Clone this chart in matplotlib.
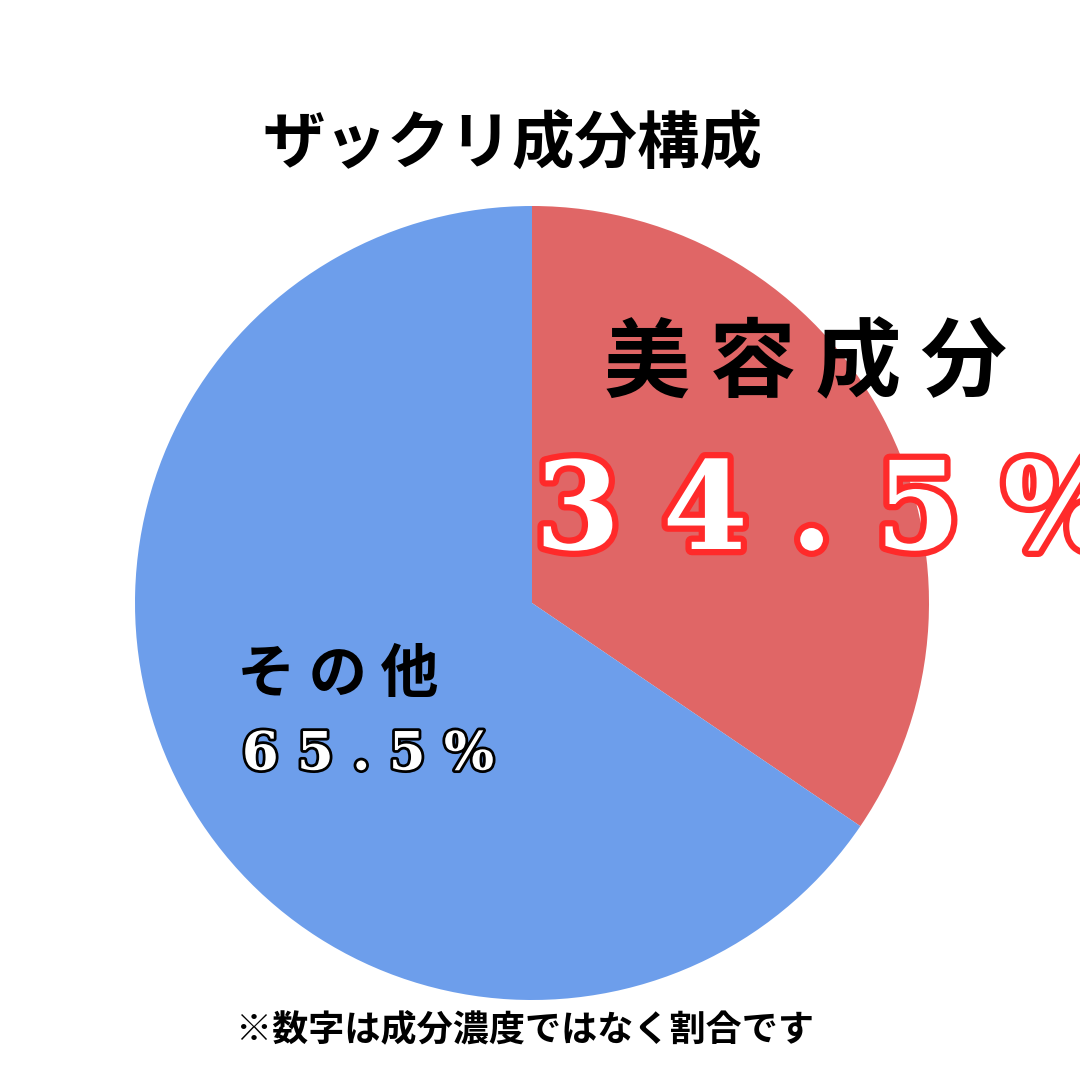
import matplotlib
matplotlib.use("Agg")
import matplotlib.pyplot as plt
import matplotlib.patheffects as pe

plt.rcParams['font.family'] = ['Noto Sans CJK JP', 'DejaVu Sans']

labels = ["美容成分", "その他"]
values = [34.5, 65.5]
colors = ["#E06666", "#6D9EEB"]

fig = plt.figure(figsize=(10.8, 10.8), dpi=100)
fig.patch.set_facecolor("white")
cx, cy, r = 532/1080, 1-603/1080, 397/1080
ax = fig.add_axes([cx-r, cy-r, 2*r, 2*r])
ax.pie(values, colors=colors, startangle=90, counterclock=False,
       wedgeprops=dict(linewidth=0))
ax.set_xlim(-1, 1); ax.set_ylim(-1, 1)
ax.set_aspect('equal'); ax.axis('off')

def T(x, y, s, size, color="black", stroke=None, sw=0, **kw):
    t = fig.text(x/1080, 1-y/1080, s, fontsize=size, color=color,
                 ha='center', va='center', fontweight='bold', **kw)
    if stroke:
        t.set_path_effects([pe.withStroke(linewidth=sw, foreground=stroke)])
    return t

T(512, 145, "ザックリ成分構成", 45)
T(805, 365, "美 容 成 分", 62)
T(827, 515, "3 4 . 5 %", 88, color="white", stroke="#FF2A2A", sw=9,
  family=['DejaVu Serif'])
T(338, 675, "そ の 他", 42)
T(368, 755, "6 5 . 5 %", 38, color="white", stroke="black", sw=4,
  family=['DejaVu Serif'])
T(525, 1030, "※数字は成分濃度ではなく割合です", 26)

fig.savefig("out.png", dpi=100, facecolor="white")
